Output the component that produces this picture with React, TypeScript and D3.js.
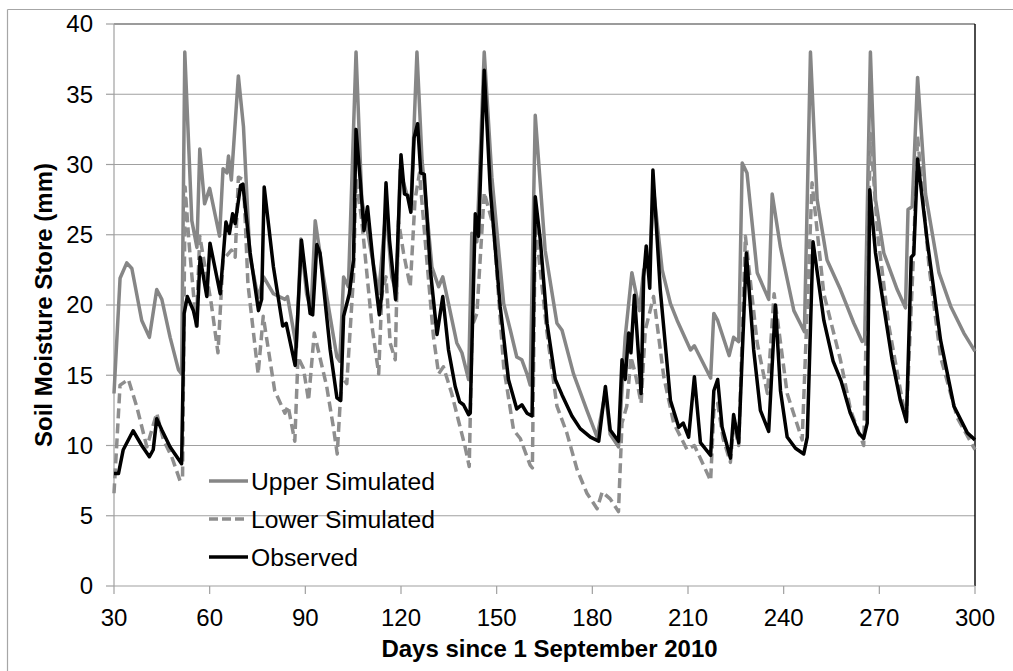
import React from "react";
import * as d3 from "d3";

// ---- data ----
const xTicks = [30, 60, 90, 120, 150, 180, 210, 240, 270, 300];
const yTicks = [0, 5, 10, 15, 20, 25, 30, 35, 40];

const upperDays = [30, 31.9, 34, 35.6, 38.7, 41.1, 43.4, 45, 47.6, 50.2, 51.2, 52.2, 54.4, 56, 56.9, 58.4, 60, 63.1, 64.2, 65.4, 65.9, 66.8, 69, 70.6, 72.6, 75.2, 76.9, 80, 83.6, 84.4, 87.2, 88.6, 90.4, 91.8, 93.1, 95.7, 99.9, 100.8, 102, 103.5, 105.9, 107.7, 113, 115.3, 117.1, 118.6, 119.7, 121.8, 123.2, 125, 126.6, 129.7, 131.8, 133.1, 134.9, 137.5, 139.1, 141.2, 142.2, 143.8, 146.1, 148.5, 152.2, 154.3, 156.3, 157.9, 159.5, 160.5, 162.1, 165.2, 168.9, 170.5, 174.1, 178.3, 181.5, 184.1, 185.6, 188.2, 190.3, 192.4, 194.8, 196.1, 198, 199.2, 201.9, 204.5, 206.6, 210.8, 212, 217.1, 218.1, 219.3, 222.9, 224.3, 225.9, 227, 228.5, 231.7, 235.3, 236.4, 239, 243.2, 246.5, 248.4, 250.5, 253.6, 257.8, 262, 264.6, 265.4, 267.2, 268.8, 271.4, 275.6, 278.2, 279, 280.3, 282, 284.5, 288.7, 292.4, 296.5, 300];
const upperValues = [13.7, 21.9, 23.0, 22.6, 18.9, 17.7, 21.1, 20.4, 17.7, 15.4, 15.1, 38.0, 26.0, 24.1, 31.1, 27.2, 28.3, 24.9, 29.7, 29.4, 30.6, 28.9, 36.3, 32.7, 23.5, 20.5, 22.0, 20.8, 20.4, 20.6, 17.0, 24.7, 20.8, 19.6, 26.0, 22.0, 16.3, 16.0, 22.0, 21.3, 38.0, 27.5, 20.8, 26.8, 22.0, 20.8, 29.6, 27.9, 27.5, 38.0, 30.3, 22.7, 21.3, 22.0, 20.1, 17.3, 16.6, 14.7, 25.1, 24.5, 38.0, 29.1, 20.1, 18.2, 16.3, 16.1, 15.1, 14.3, 33.5, 23.9, 18.7, 18.2, 15.1, 12.5, 10.6, 13.8, 10.8, 9.9, 17.7, 22.3, 19.6, 22.5, 23.2, 28.2, 22.5, 20.1, 18.9, 16.8, 17.1, 14.8, 19.4, 18.9, 16.4, 17.7, 17.4, 30.1, 29.4, 22.3, 20.4, 27.9, 24.1, 19.6, 18.1, 38.0, 27.5, 23.2, 21.1, 18.7, 17.4, 17.5, 38.0, 27.5, 23.7, 21.1, 19.8, 26.8, 27.0, 36.2, 27.9, 22.3, 19.9, 18.0, 16.7];

const lowerDays = [30, 31.9, 34.5, 37.1, 40.3, 43.4, 45.5, 48.1, 50.7, 51.5, 52.3, 53.5, 55.8, 56.9, 60.5, 62.6, 64.2, 66.8, 68, 69, 70.6, 72, 75.2, 76.8, 80.4, 83.6, 84.6, 86.7, 87.7, 89.4, 91, 92.8, 96.7, 98.8, 100, 101.4, 103, 105.1, 105.9, 107.7, 110.9, 113, 114, 115.3, 116.6, 118.2, 119.2, 120.8, 122.9, 124.4, 125.8, 128.1, 130.2, 131.8, 133.3, 135.9, 138, 140.1, 141.4, 142.3, 143.8, 146.1, 149, 152.2, 155.3, 157.4, 160.5, 161.2, 162.1, 165.8, 168.9, 172, 175.2, 178.3, 181.5, 183.1, 185.6, 188.2, 189.3, 190.8, 192.1, 193.5, 195.3, 196.6, 199.2, 202.4, 205.5, 209.7, 212, 217.1, 218.1, 219.3, 221, 223.3, 224.3, 225.9, 228, 231.7, 234.9, 237, 241.1, 245.8, 248.9, 252.6, 257.8, 261, 265.1, 267.2, 269.5, 273, 277.2, 278.5, 280.6, 282, 285.6, 289.2, 294.4, 300];
const lowerValues = [6.6, 14.3, 14.7, 12.8, 9.9, 12.3, 10.4, 9.2, 7.5, 7.8, 28.4, 24.5, 18.5, 24.9, 20.1, 16.6, 23.2, 23.9, 23.4, 29.1, 28.9, 21.5, 15.1, 19.2, 13.9, 12.3, 12.8, 10.3, 16.3, 15.5, 13.2, 18.0, 14.2, 11.3, 9.4, 14.9, 14.4, 22.0, 29.0, 26.0, 18.5, 15.1, 20.8, 22.0, 17.3, 16.1, 26.0, 23.7, 21.3, 27.5, 29.4, 23.2, 17.7, 15.1, 15.6, 13.7, 11.8, 9.9, 8.5, 18.5, 19.4, 28.0, 25.6, 15.6, 11.1, 10.5, 8.6, 8.4, 25.8, 18.0, 12.8, 10.9, 8.3, 6.6, 5.5, 6.7, 6.2, 5.3, 11.6, 12.8, 16.3, 15.1, 13.0, 18.2, 20.6, 14.9, 11.6, 9.7, 10.0, 7.5, 12.5, 13.0, 10.5, 8.8, 11.5, 10.0, 24.9, 17.3, 13.7, 20.8, 13.7, 10.4, 28.7, 20.8, 16.1, 12.5, 10.0, 32.2, 25.0, 18.5, 13.2, 12.0, 23.0, 32.0, 22.7, 16.3, 12.0, 9.7];

const observedDays = [30, 31.4, 32.9, 36, 38.7, 41.1, 42.3, 43.4, 45, 47.6, 51.2, 52, 53, 54.9, 56, 57, 59.1, 60.1, 63.3, 65.1, 66.2, 67.2, 68, 69.7, 70.4, 72.7, 75.3, 76.3, 77.1, 80, 82.9, 84, 86.8, 88.8, 91.5, 92.3, 93.6, 94.6, 97.8, 99.9, 101.1, 102, 103.8, 105.1, 105.9, 107.2, 108.4, 109.5, 111.4, 113.2, 114, 115.3, 116.4, 118.3, 120, 121.1, 122, 123.1, 124.1, 125.2, 126.2, 127.3, 129.2, 131.3, 133.1, 134.9, 137, 138.4, 139.6, 141.2, 141.7, 143.3, 144.3, 146.1, 148, 151.1, 153.7, 156.3, 157.9, 159.5, 161.1, 162.1, 163.7, 165.8, 168.4, 170.5, 173.6, 176.2, 179.4, 182, 184.1, 185.6, 188.2, 189.3, 190.3, 191.4, 192.1, 193.2, 195.3, 196.1, 196.9, 198, 199, 201.3, 204.5, 207.1, 208.5, 210.2, 212, 213.9, 217.1, 218.1, 219.3, 220.7, 223.3, 224.3, 225.9, 228.3, 230.6, 232.7, 235.3, 237.4, 239, 241.1, 243.7, 246.3, 247.4, 249.2, 252.6, 255.5, 258, 260.9, 263.5, 265.1, 266.2, 267, 268.8, 271.4, 274, 276.6, 278.5, 280, 280.8, 282, 285, 289.2, 293.4, 297.6, 300];
const observedValues = [8.0, 8.0, 9.7, 11.05, 10.0, 9.2, 9.7, 11.9, 11.1, 9.9, 8.7, 19.4, 20.6, 19.6, 18.5, 23.4, 20.6, 24.4, 20.8, 25.9, 25.1, 26.5, 25.8, 28.5, 28.6, 23.7, 19.6, 20.4, 28.4, 22.7, 18.5, 18.7, 15.7, 24.6, 19.4, 19.3, 24.3, 23.7, 16.8, 13.4, 13.2, 19.2, 20.8, 23.2, 32.5, 28.9, 25.3, 27.0, 22.7, 19.3, 20.8, 28.7, 24.6, 20.4, 30.7, 27.9, 27.8, 26.6, 31.9, 32.9, 29.4, 29.3, 22.5, 17.9, 20.6, 16.8, 14.2, 13.1, 12.9, 12.2, 12.3, 26.5, 24.9, 36.7, 28.2, 19.9, 14.7, 12.6, 12.9, 12.3, 12.1, 27.7, 24.6, 18.7, 14.7, 13.6, 12.1, 11.2, 10.6, 10.3, 14.2, 11.1, 10.3, 16.1, 14.7, 18.0, 16.6, 20.7, 13.7, 22.0, 24.2, 21.2, 29.6, 21.1, 13.2, 11.3, 11.6, 10.6, 14.9, 10.2, 9.3, 13.9, 14.7, 11.3, 9.1, 12.2, 10.2, 23.7, 16.8, 12.5, 11.0, 20.0, 13.9, 10.6, 9.8, 9.4, 10.6, 24.5, 18.9, 16.0, 14.6, 12.3, 10.9, 10.5, 11.6, 28.2, 23.7, 19.9, 16.1, 13.2, 11.7, 23.4, 23.6, 30.4, 24.6, 17.5, 12.8, 10.9, 10.4];

const legendLabels = ["Upper Simulated", "Lower Simulated", "Observed"];

// ---- layout ----
const W = 1013;
const H = 671;
const left = 114;
const right = 975;
const top = 24;
const bottom = 586;
const FONT = "'Liberation Sans', Arial, Helvetica, sans-serif";

export default function App() {
  const x = d3.scaleLinear().domain([30, 300]).range([left, right]);
  const y = d3.scaleLinear().domain([0, 40]).range([bottom, top]);

  const mk = (days: number[], vals: number[]) =>
    d3
      .line<number>()
      .x((_, i) => x(days[i]))
      .y((v) => y(v))(vals) || "";

  const upperPath = mk(upperDays, upperValues);
  const lowerPath = mk(lowerDays, lowerValues);
  const obsPath = mk(observedDays, observedValues);

  const seriesStyle = [
    { stroke: "#868686", dash: undefined as string | undefined },
    { stroke: "#8e8e8e", dash: "10,5" },
    { stroke: "#000000", dash: undefined as string | undefined },
  ];
  const legendY = [481, 519, 557];

  return (
    <div style={{ position: "fixed", left: 0, top: 0, width: W, height: H, background: "#fff" }}>
      <svg width={W} height={H} style={{ display: "block", fontFamily: FONT }}>
        <rect x={0} y={0} width={W} height={H} fill="#fff" />
        {/* outer frame */}
        <line x1={7.5} y1={9.5} x2={W} y2={9.5} stroke="#a6a6a6" strokeWidth={1.2} />
        <line x1={7.5} y1={9.5} x2={7.5} y2={H} stroke="#a6a6a6" strokeWidth={1.2} />

        {/* grid */}
        {yTicks.filter((t) => t > 0 && t < 40).map((t) => (
          <line key={"g" + t} x1={left} x2={right} y1={y(t)} y2={y(t)} stroke="#a0a0a0" strokeWidth={1.2} />
        ))}
        {/* plot border: top & right */}
        <line x1={left} x2={right} y1={top} y2={top} stroke="#7a7a7a" strokeWidth={1.6} />
        <line x1={right} x2={right} y1={top} y2={bottom} stroke="#000" strokeWidth={1.4} />

        {/* axes */}
        <line x1={left} x2={left} y1={top} y2={bottom} stroke="#a0a0a0" strokeWidth={1.2} />
        <line x1={left} x2={right} y1={bottom} y2={bottom} stroke="#a0a0a0" strokeWidth={1.2} />
        {yTicks.map((t) => (
          <g key={"y" + t}>
            <line x1={left - 8} x2={left} y1={y(t)} y2={y(t)} stroke="#a0a0a0" strokeWidth={1.2} />
            <text x={93} y={y(t)} dy="0.35em" textAnchor="end" fontSize={24} fill="#000">
              {t}
            </text>
          </g>
        ))}
        {xTicks.map((t) => (
          <g key={"x" + t}>
            <line x1={x(t)} x2={x(t)} y1={bottom} y2={bottom + 8} stroke="#a0a0a0" strokeWidth={1.2} />
            <text x={x(t)} y={626} textAnchor="middle" fontSize={24} fill="#000">
              {t}
            </text>
          </g>
        ))}

        {/* axis titles */}
        <text
          transform={`translate(52, ${(top + bottom) / 2}) rotate(-90)`}
          textAnchor="middle"
          fontSize={24}
          fontWeight="bold"
          fill="#000"
        >
          Soil Moisture Store (mm)
        </text>
        <text x={(left + right) / 2 + 5} y={657} textAnchor="middle" fontSize={24} fontWeight="bold" fill="#000">
          Days since 1 September 2010
        </text>

        {/* series */}
        <g fill="none" strokeWidth={3.5} strokeLinejoin="round">
          <path d={upperPath} stroke={seriesStyle[0].stroke} />
          <path d={lowerPath} stroke={seriesStyle[1].stroke} strokeDasharray={seriesStyle[1].dash} />
          <path d={obsPath} stroke={seriesStyle[2].stroke} />
        </g>

        {/* legend */}
        {legendLabels.map((lab, i) => (
          <g key={lab}>
            <line
              x1={209}
              x2={248}
              y1={legendY[i]}
              y2={legendY[i]}
              stroke={seriesStyle[i].stroke}
              strokeWidth={3.5}
              strokeDasharray={seriesStyle[i].dash ? "9,4" : undefined}
            />
            <text x={251} y={legendY[i]} dy="0.35em" fontSize={24.7} fill="#000">
              {lab}
            </text>
          </g>
        ))}
      </svg>
    </div>
  );
}
